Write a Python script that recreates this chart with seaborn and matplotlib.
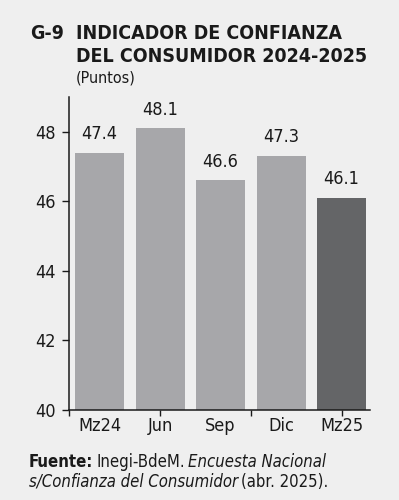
import matplotlib
matplotlib.use("Agg")
import matplotlib.pyplot as plt
import seaborn as sns
import pandas as pd

categories = ["Mz24", "Jun", "Sep", "Dic", "Mz25"]
values = [47.4, 48.1, 46.6, 47.3, 46.1]
value_labels = ["47.4", "48.1", "46.6", "47.3", "46.1"]
yticks = [40, 42, 44, 46, 48]

sns.set_theme(style="white")
plt.rcParams["font.family"] = ["DejaVu Sans"]
plt.rcParams["font.stretch"] = "condensed"

bg = "#efefef"
txt = "#1a1a1a"
colors = ["#a7a7aa", "#a7a7aa", "#a7a7aa", "#a7a7aa", "#646567"]

df = pd.DataFrame({"cat": categories, "val": values})

fig = plt.figure(figsize=(3.99, 5.0), dpi=100, facecolor=bg)
ax = fig.add_axes([69.25 / 399, 1 - 410 / 500, (370 - 69.25) / 399, (410 - 97) / 500])
ax.set_facecolor(bg)

sns.barplot(data=df, x="cat", y="val", hue="cat", palette=colors, legend=False,
            width=0.81, saturation=1, ax=ax, linewidth=0, edgecolor="none")
ax.set_axisbelow(False)

ax.set_ylim(40, 49.0)
ax.set_xlim(-0.5, 4.47)
ax.set_xlabel("")
ax.set_ylabel("")
ax.set_yticks(yticks)
ax.set_yticklabels([str(t) for t in yticks], fontsize=13, color=txt)
ax.tick_params(axis="y", length=5, width=1, color=txt, pad=5, left=True)
ax.tick_params(axis="x", length=0, pad=5, labelsize=13, labelcolor=txt)
ax.set_xticks(range(len(categories)))
ax.set_xticklabels(categories)
ax.xaxis.remove_overlapping_locs = False
ax.set_xticks([-0.5, 1, 2.5, 4], minor=True)
ax.tick_params(axis="x", which="minor", length=4, width=1, color=txt, direction="out", bottom=True)

for s in ["top", "right"]:
    ax.spines[s].set_visible(False)
for s in ["left", "bottom"]:
    ax.spines[s].set_color(txt)
    ax.spines[s].set_linewidth(1.1)

for i, (v, lab) in enumerate(zip(values, value_labels)):
    ax.annotate(lab, (i, v), xytext=(0, 7), textcoords="offset points",
                ha="center", va="bottom", fontsize=13, color=txt)

renderer = fig.canvas.get_renderer()


def chain(x_px, y_px, parts, gap=3):
    x = x_px
    for s, kw in parts:
        t = fig.text(x / 399, 1 - y_px / 500, s, color=txt, va="center", **kw)
        bb = t.get_window_extent(renderer=renderer)
        x = bb.x1 + gap


tfs = 14
fig.text(30 / 399, 1 - 33 / 500, "G-9", fontsize=tfs, fontweight="bold", color=txt, va="center")
fig.text(76 / 399, 1 - 33 / 500, "INDICADOR DE CONFIANZA", fontsize=tfs, fontweight="bold", color=txt, va="center")
fig.text(76 / 399, 1 - 57 / 500, "DEL CONSUMIDOR 2024-2025", fontsize=tfs, fontweight="bold", color=txt, va="center")
fig.text(76 / 399, 1 - 78 / 500, "(Puntos)", fontsize=11.5, color=txt, va="center")

fs = 12
chain(29, 462, [("Fuente:", dict(fontsize=fs, fontweight="bold")),
                ("Inegi-BdeM.", dict(fontsize=fs)),
                ("Encuesta Nacional", dict(fontsize=fs, style="italic"))])
chain(29, 482, [("s/Confianza del Consumidor", dict(fontsize=fs, style="italic")),
                ("(abr. 2025).", dict(fontsize=fs))])

fig.savefig("out.png", dpi=100, facecolor=bg)
